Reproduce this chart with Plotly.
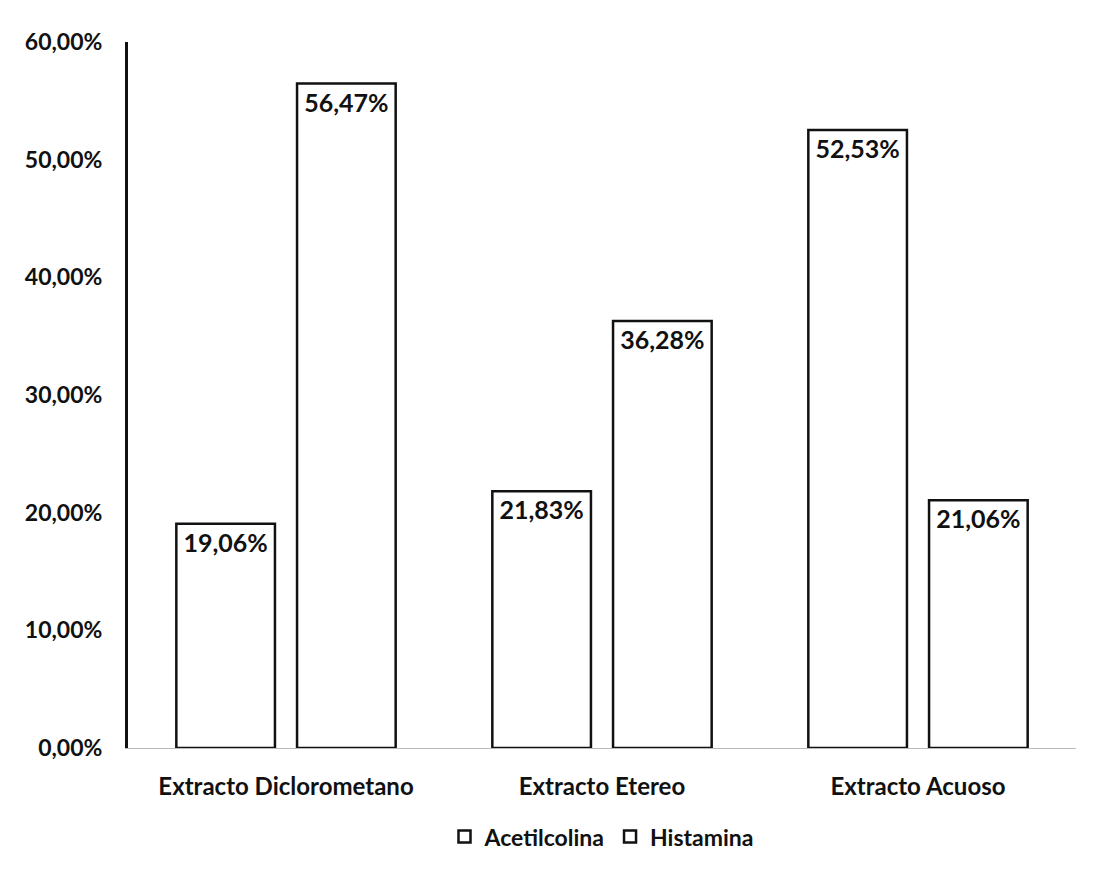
import plotly.graph_objects as go

categories = ["Extracto Diclorometano", "Extracto Etereo", "Extracto Acuoso"]
acetilcolina = [19.06, 21.83, 52.53]
histamina = [56.47, 36.28, 21.06]
y_ticks = [0, 10, 20, 30, 40, 50, 60]
y_tick_labels = ["0,00%", "10,00%", "20,00%", "30,00%", "40,00%", "50,00%", "60,00%"]

font_family = "Lato, 'Open Sans', sans-serif"

fig = go.Figure()
for name, vals in [("Acetilcolina", acetilcolina), ("Histamina", histamina)]:
    fig.add_trace(go.Bar(
        x=categories, y=vals, name=name,
        marker=dict(color="white", line=dict(color="#111111", width=2.5)),
        texttemplate="%{y:.2f}%", textposition="inside", insidetextanchor="end",
        textfont=dict(family=font_family, size=25, color="#111111", weight="bold"),
        cliponaxis=False,
    ))

fig.update_layout(
    width=1097, height=878,
    margin=dict(l=128, r=21, t=42, b=130),
    paper_bgcolor="white", plot_bgcolor="white",
    separators=",.",
    barmode="group", bargap=0.236, bargroupgap=0.183,
    font=dict(family=font_family, size=20, color="#111111", weight="bold"),
    showlegend=True,
    legend=dict(orientation="h", x=0.5, xanchor="center", y=-0.095, yanchor="top",
                font=dict(size=23), itemwidth=30),
)
fig.update_yaxes(range=[0, 60], tickmode="array", tickvals=y_ticks, ticktext=y_tick_labels,
                 showgrid=False, zeroline=False, showline=True, linecolor="#111111",
                 linewidth=3, ticks="", ticklabelstandoff=18,
                 tickfont=dict(size=23))
fig.update_xaxes(showgrid=False, showline=True, linecolor="#bbbbbb", linewidth=1,
                 ticks="", tickfont=dict(size=24), ticklabelstandoff=17)

fig.write_html("out.html")
